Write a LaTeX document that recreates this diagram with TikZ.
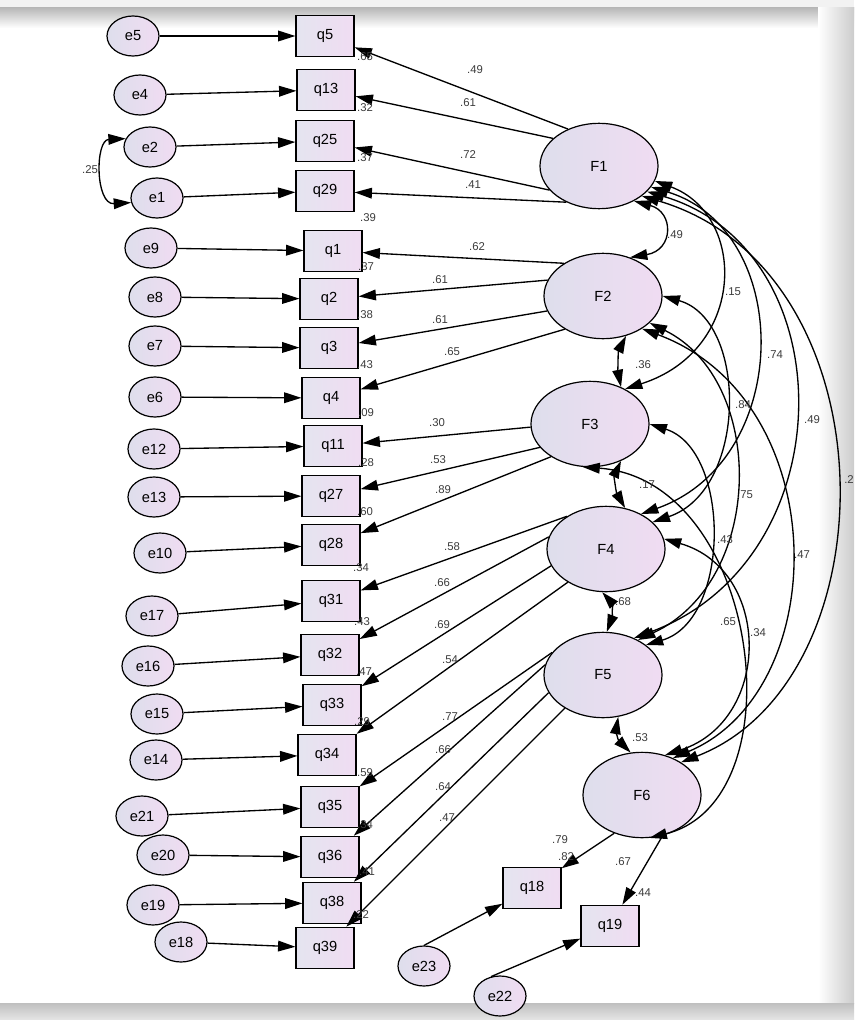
\documentclass[tikz,border=0pt]{standalone}
\usepackage{fontspec}
\setmainfont{Liberation Sans}
\usetikzlibrary{arrows.meta,shapes.geometric}
\definecolor{fl}{RGB}{222,222,236}
\definecolor{fr}{RGB}{240,220,242}
\definecolor{labc}{RGB}{60,60,60}
\begin{document}
\begin{tikzpicture}[x=0.75pt,y=-0.75pt,
  >={Triangle[length=13pt,width=8pt]},
  lat/.style={ellipse, draw, line width=0.9pt, minimum width=88.5pt, minimum height=64pt, inner sep=0pt, left color=fl, right color=fr, font=\fontsize{11}{12}\selectfont},
  err/.style={ellipse, draw, line width=0.9pt, minimum width=39pt, minimum height=30pt, inner sep=0pt, left color=fl, right color=fr, font=\fontsize{11}{12}\selectfont},
  obs/.style={rectangle, draw, line width=0.9pt, minimum width=43.5pt, minimum height=31pt, inner sep=0pt, left color=fl!80!white, right color=fr, font=\fontsize{11}{12}\selectfont},
  pth/.style={->, line width=1pt},
  cov/.style={<->, line width=1pt},
  lab/.style={font=\fontsize{8.5}{9}\selectfont, text=labc, inner sep=0pt}
]
\useasboundingbox (0,0) rectangle (854,1020);
% frame
\fill[white] (0,0) rectangle (854,1020);
\fill[gray!10] (0,0) rectangle (854,8);
\shade[top color=gray!55, bottom color=white] (0,8) rectangle (854,28);
\shade[left color=white, right color=gray!40] (818,8) rectangle (854,1003);
\shade[top color=gray!50, bottom color=gray!20] (0,1003) rectangle (854,1020);

% error terms
\node[err] (e5) at (133,36) {e5};
\node[err] (e4) at (140,95) {e4};
\node[err] (e2) at (150,147) {e2};
\node[err] (e1) at (157,198) {e1};
\node[err] (e9) at (151,248) {e9};
\node[err] (e8) at (155,297) {e8};
\node[err] (e7) at (155,346) {e7};
\node[err] (e6) at (155,397) {e6};
\node[err] (e12) at (154,449) {e12};
\node[err] (e13) at (154,497) {e13};
\node[err] (e10) at (160,553) {e10};
\node[err] (e17) at (152,616) {e17};
\node[err] (e16) at (148,666) {e16};
\node[err] (e15) at (157,714) {e15};
\node[err] (e14) at (156,760) {e14};
\node[err] (e21) at (142,816) {e21};
\node[err] (e20) at (163,855) {e20};
\node[err] (e19) at (153,905) {e19};
\node[err] (e18) at (181,942) {e18};
\node[err] (e23) at (424,966) {e23};
\node[err] (e22) at (500,996) {e22};

% observed
\node[obs] (q5) at (325,36) {q5};
\node[obs] (q13) at (326,90) {q13};
\node[obs] (q25) at (325,141) {q25};
\node[obs] (q29) at (325,191) {q29};
\node[obs] (q1) at (333,251) {q1};
\node[obs] (q2) at (329,299) {q2};
\node[obs] (q3) at (329,348) {q3};
\node[obs] (q4) at (331,398) {q4};
\node[obs] (q11) at (333,446) {q11};
\node[obs] (q27) at (331,496) {q27};
\node[obs] (q28) at (331,545) {q28};
\node[obs] (q31) at (331,601) {q31};
\node[obs] (q32) at (330,655) {q32};
\node[obs] (q33) at (332,705) {q33};
\node[obs] (q34) at (327,755) {q34};
\node[obs] (q35) at (330,807) {q35};
\node[obs] (q36) at (330,857) {q36};
\node[obs] (q38) at (332,903) {q38};
\node[obs] (q39) at (325,948) {q39};
\node[obs] (q18) at (532,888) {q18};
\node[obs] (q19) at (610,926) {q19};

% latent
\node[lat] (F1) at (599,166) {F1};
\node[lat] (F2) at (603,296) {F2};
\node[lat] (F3) at (590,424) {F3};
\node[lat] (F4) at (606,549) {F4};
\node[lat] (F5) at (603,675) {F5};
\node[lat] (F6) at (642,795) {F6};

% error paths
\foreach \e/\q in {e5/q5,e4/q13,e2/q25,e1/q29,e9/q1,e8/q2,e7/q3,e6/q4,e12/q11,e13/q27,e10/q28,e17/q31,e16/q32,e15/q33,e14/q34,e21/q35,e20/q36,e19/q38,e18/q39}
  \draw[pth] (\e) -- (\q);
\draw[pth] (e23.90) -- (q18);
\draw[pth] (e22.115) -- (q19);
\draw[cov] (e2.161) .. controls (95,140) and (95,205) .. (e1.190);

% loadings
\draw[pth] (F1.130) -- (q5);
\draw[pth] (F1.149) -- (q13);
\draw[pth] (F1.206) -- (q25);
\draw[pth] (F1.228) -- (q29);
\draw[pth] (F2.140) -- (q1);
\draw[pth] (F2.164) -- (q2);
\draw[pth] (F2.195) -- (q3);
\draw[pth] (F2.221) -- (q4);
\draw[pth] (F3.183) -- (q11);
\draw[pth] (F3.205) -- (q27);
\draw[pth] (F3.220) -- (q28);
\draw[pth] (F4.140) -- (q31);
\draw[pth] (F4.168) -- (q32);
\draw[pth] (F4.197) -- (q33);
\draw[pth] (F4.221) -- (q34);
\draw[pth] (F5.156) -- (q35);
\draw[pth] (F5.170) -- (q36);
\draw[pth] (F5.198) -- (q38);
\draw[pth] (F5.221) -- (q39);
\draw[pth] (F6.234) -- (q18);
\draw[pth] (F6.297) -- (q19);

% covariances
\draw[cov] (F1.-45) .. controls (674,212) and (674,250) .. (F2.55);
\draw[cov] (F2.-60) .. controls (618,352) and (618,372) .. (F3.50);
\draw[cov] (F3.-50) .. controls (614,476) and (616,492) .. (F4.65);
\draw[cov] (F4.-95) .. controls (612,603) and (612,618) .. (F5.85);
\draw[cov] (F5.-70) .. controls (616,730) and (618,740) .. (F6.105);
\draw[cov] (F1.-15) .. controls (747,215) and (747,350) .. (F3.45);
\draw[cov] (F1.-22) .. controls (794,230) and (794,460) .. (F4.45);
\draw[cov] (F1.-28) .. controls (846,250) and (846,560) .. (F5.50);
\draw[cov] (F1.-35) .. controls (894,270) and (894,680) .. (F6.40);
\draw[cov] (F2.0) .. controls (748,320) and (748,490) .. (F4.30);
\draw[cov] (F2.-30) .. controls (766,380) and (766,580) .. (F5.45);
\draw[cov] (F2.-40) .. controls (834,400) and (834,690) .. (F6.50);
\draw[cov] (F3.0) .. controls (731,450) and (731,620) .. (F5.35);
\draw[cov] (F3.-100) .. controls (760,480) and (800,800) .. (F6.-80);
\draw[cov] (F4.10) .. controls (772,570) and (772,720) .. (F6.60);

% loading labels
\node[lab] (a1) at (475,70) {.49};
\node[lab] (a2) at (468,103) {.61};
\node[lab] (a3) at (468,155) {.72};
\node[lab] (a4) at (473,185) {.41};
\node[lab] (a5) at (477,247) {.62};
\node[lab] (a6) at (440,280) {.61};
\node[lab] (a7) at (440,320) {.61};
\node[lab] (a8) at (452,352) {.65};
\node[lab] (a9) at (437,423) {.30};
\node[lab] (a10) at (438,460) {.53};
\node[lab] (a11) at (443,490) {.89};
\node[lab] (a12) at (452,547) {.58};
\node[lab] (a13) at (442,583) {.66};
\node[lab] (a14) at (442,625) {.69};
\node[lab] (a15) at (450,660) {.54};
\node[lab] (a16) at (450,717) {.77};
\node[lab] (a17) at (443,750) {.66};
\node[lab] (a18) at (443,787) {.64};
\node[lab] (a19) at (447,818) {.47};
\node[lab] (a20) at (560,840) {.79};
\node[lab] (a21) at (623,862) {.67};

% squared multiple correlations
\node[lab] (r1) at (365,57) {.65};
\node[lab] (r2) at (365,108) {.32};
\node[lab] (r3) at (365,158) {.37};
\node[lab] (r4) at (368,218) {.39};
\node[lab] (r5) at (366,267) {.37};
\node[lab] (r6) at (365,315) {.38};
\node[lab] (r7) at (365,365) {.43};
\node[lab] (r8) at (366,413) {.09};
\node[lab] (r9) at (366,463) {.28};
\node[lab] (r10) at (365,512) {.60};
\node[lab] (r11) at (361,568) {.34};
\node[lab] (r12) at (362,622) {.43};
\node[lab] (r13) at (364,672) {.47};
\node[lab] (r14) at (362,722) {.29};
\node[lab] (r15) at (365,773) {.59};
\node[lab] (r16) at (365,825) {.34};
\node[lab] (r17) at (367,872) {.41};
\node[lab] (r18) at (361,915) {.22};
\node[lab] (r19) at (566,857) {.82};
\node[lab] (r20) at (643,893) {.44};

% covariance labels
\node[lab] (c0) at (90,170) {.25};
\node[lab] (c1) at (675,235) {.49};
\node[lab] (c2) at (733,292) {.15};
\node[lab] (c3) at (775,355) {.74};
\node[lab] (c4) at (643,365) {.36};
\node[lab] (c5) at (743,405) {.84};
\node[lab] (c6) at (812,420) {.49};
\node[lab, anchor=east] (c7) at (854,480) {.2};
\node[lab] (c8) at (647,485) {.17};
\node[lab] (c9) at (745,495) {.75};
\node[lab] (c10) at (725,540) {.43};
\node[lab] (c11) at (802,555) {.47};
\node[lab] (c12) at (623,602) {.68};
\node[lab] (c13) at (728,622) {.65};
\node[lab] (c14) at (758,633) {.34};
\node[lab] (c15) at (640,738) {.53};
\end{tikzpicture}
\end{document}
